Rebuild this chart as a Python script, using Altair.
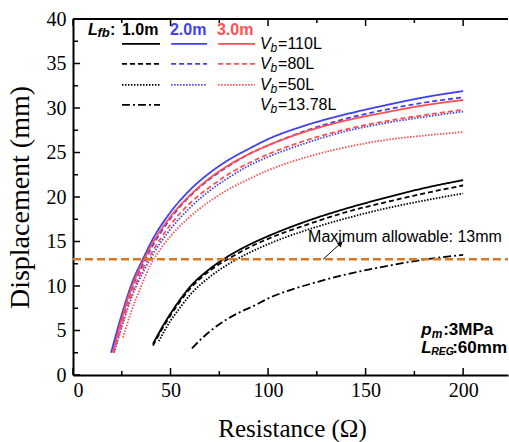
import altair as alt
import pandas as pd

# ---------------- data ----------------
lfb_levels = ["1.0m", "2.0m", "3.0m"]
vb_levels = ["110L", "80L", "50L", "13.78L"]

# Lfb = 1.0 m (black)
r_1_110 = [41, 45, 50, 55, 60, 70, 80, 90, 100, 120, 140, 160, 180, 200]
d_1_110 = [3.5, 5.1, 6.9, 8.5, 9.9, 11.9, 13.4, 14.6, 15.6, 17.3, 18.7, 19.9, 21.0, 21.9]
r_1_80 = [41, 45, 50, 55, 60, 70, 80, 90, 100, 120, 140, 160, 180, 200]
d_1_80 = [3.3, 4.9, 6.7, 8.3, 9.7, 11.7, 13.1, 14.3, 15.3, 16.9, 18.3, 19.4, 20.4, 21.3]
r_1_50 = [44, 50, 55, 60, 70, 80, 90, 100, 120, 140, 160, 180, 200]
d_1_50 = [3.8, 6.1, 7.6, 9.0, 11.0, 12.5, 13.7, 14.7, 16.3, 17.6, 18.7, 19.6, 20.4]
r_1_1378 = [61, 67, 75, 85, 92, 101, 115, 126, 140, 160, 178, 200]
d_1_1378 = [3.0, 4.3, 5.7, 7.0, 7.7, 8.7, 9.8, 10.5, 11.3, 12.2, 12.9, 13.5]

# Lfb = 2.0 m (blue)
r_2_110 = [19.5, 25, 30, 36, 40, 50, 60, 70, 80, 90, 100, 120, 140, 160, 180, 200]
d_2_110 = [2.5, 6.8, 10.2, 13.1, 14.9, 18.3, 20.8, 22.7, 24.2, 25.4, 26.5, 28.1, 29.3, 30.3, 31.2, 31.9]
r_2_80 = [20.5, 25, 30, 36, 40, 50, 60, 70, 80, 90, 100, 120, 140, 160, 180, 200]
d_2_80 = [2.6, 6.2, 9.6, 12.5, 14.2, 17.6, 20.1, 22.0, 23.5, 24.8, 25.8, 27.5, 28.8, 29.8, 30.6, 31.2]
r_2_50 = [21, 25, 30, 36, 40, 50, 60, 70, 80, 90, 100, 120, 140, 160, 180, 200]
d_2_50 = [2.5, 5.4, 8.7, 11.6, 13.2, 16.4, 18.8, 20.7, 22.2, 23.5, 24.5, 26.1, 27.4, 28.3, 29.0, 29.6]

# Lfb = 3.0 m (red)
r_3_110 = [20.5, 25, 30, 36, 40, 50, 60, 70, 80, 90, 100, 120, 140, 160, 180, 200]
d_3_110 = [2.5, 6.3, 9.8, 12.8, 14.5, 17.8, 20.2, 22.1, 23.6, 24.8, 25.8, 27.4, 28.6, 29.5, 30.3, 30.9]
r_3_80 = [21, 25, 30, 36, 40, 50, 60, 70, 80, 90, 100, 120, 140, 160, 180, 200]
d_3_80 = [2.5, 5.6, 9.0, 12.0, 13.6, 16.9, 19.3, 21.1, 22.6, 23.8, 24.8, 26.4, 27.6, 28.5, 29.2, 29.8]
r_3_50 = [25.6, 30, 35, 40, 45, 50, 60, 70, 80, 90, 100, 120, 140, 160, 180, 200]
d_3_50 = [4.2, 7.2, 10.0, 12.5, 14.2, 15.6, 17.8, 19.5, 20.9, 22.0, 23.0, 24.5, 25.6, 26.4, 26.9, 27.3]

series = [
    ("1.0m", "110L", r_1_110, d_1_110), ("1.0m", "80L", r_1_80, d_1_80),
    ("1.0m", "50L", r_1_50, d_1_50), ("1.0m", "13.78L", r_1_1378, d_1_1378),
    ("2.0m", "110L", r_2_110, d_2_110), ("2.0m", "80L", r_2_80, d_2_80),
    ("2.0m", "50L", r_2_50, d_2_50),
    ("3.0m", "110L", r_3_110, d_3_110), ("3.0m", "80L", r_3_80, d_3_80),
    ("3.0m", "50L", r_3_50, d_3_50),
]

limit_value = [13]
x_major = [0, 50, 100, 150, 200]
x_minor = [25, 75, 125, 175]
y_major = [0, 5, 10, 15, 20, 25, 30, 35, 40]
y_minor = [2.5, 7.5, 12.5, 17.5, 22.5, 27.5, 32.5, 37.5]

rows = []
for lfb, vb, rs, ds in series:
    for r, d in zip(rs, ds):
        rows.append({"R": r, "D": d, "Lfb": lfb, "Vb": vb, "s": lfb + vb})
df = pd.DataFrame(rows)

# ---------------- styles ----------------
W, H = 435, 356
BLACK, BLUE, RED, ORANGE = "#000000", "#3f3ff5", "#ff4f4f", "#dc7820"
SERIF, SANS = "Liberation Serif", "Liberation Sans"

xs = alt.Scale(domain=[0, 223], nice=False, zero=False)
ys = alt.Scale(domain=[0, 40], nice=False, zero=False)
cs = alt.Scale(domain=lfb_levels, range=[BLACK, BLUE, RED])
ds = alt.Scale(domain=vb_levels, range=[[1, 0], [5, 3], [1.5, 1.5], [8, 3, 2, 3]])

xaxis = alt.Axis(values=x_major, title="Resistance (Ω)", ticks=False, tickSize=0, grid=False,
                 domainColor=BLACK, domainWidth=2, labelFont=SERIF, labelFontSize=20,
                 labelColor=BLACK, labelPadding=5, titleFont=SERIF, titleFontSize=25,
                 titleFontWeight="normal", titleColor=BLACK, titleX=219, titleY=53,
                 titleBaseline="middle", titleAlign="center")
yaxis = alt.Axis(values=y_major, title="Displacement (mm)", ticks=False, tickSize=0, grid=False,
                 domainColor=BLACK, domainWidth=2, labelFont=SERIF, labelFontSize=20,
                 labelColor=BLACK, labelPadding=7, titleFont=SERIF, titleFontSize=28,
                 titleFontWeight="normal", titleColor=BLACK, titleX=-53, titleY=178,
                 titleBaseline="middle", titleAlign="center")

curves = alt.Chart(df).mark_line(strokeWidth=1.8, clip=True, interpolate="monotone").encode(
    x=alt.X("R:Q", scale=xs, axis=xaxis),
    y=alt.Y("D:Q", scale=ys, axis=yaxis),
    color=alt.Color("Lfb:N", scale=cs, legend=None),
    strokeDash=alt.StrokeDash("Vb:N", scale=ds, legend=None),
    detail="s:N",
    order="R:Q",
)

limit = alt.Chart(pd.DataFrame({"y": limit_value})).mark_rule(
    color=ORANGE, strokeWidth=2.6, strokeDash=[8, 4]
).encode(y=alt.Y("y:Q", scale=ys), x=alt.value(0), x2=alt.value(W))

# legend layout (data units)
leg_x = {"1.0m": (25.1, 44.6), "2.0m": (50.3, 68.7), "3.0m": (74.4, 93.3)}
leg_y = {"110L": 37.2, "80L": 34.95, "50L": 32.6, "13.78L": 30.35}
leg_rows = []
for lfb, vb, _, _ in series:
    leg_rows.append({"Lfb": lfb, "Vb": vb, "x0": leg_x[lfb][0], "x1": leg_x[lfb][1], "y": leg_y[vb]})
leg = alt.Chart(pd.DataFrame(leg_rows)).mark_rule(strokeWidth=1.8).encode(
    x=alt.X("x0:Q", scale=xs), x2="x1:Q", y=alt.Y("y:Q", scale=ys),
    color=alt.Color("Lfb:N", scale=cs, legend=None),
    strokeDash=alt.StrokeDash("Vb:N", scale=ds, legend=None),
)


def text_layer(items, **props):
    d = pd.DataFrame(items, columns=["x", "y", "t"])
    return alt.Chart(d).mark_text(align="left", baseline="middle", **props).encode(
        x=alt.X("x:Q", scale=xs), y=alt.Y("y:Q", scale=ys), text="t:N")


HY = 38.76
VX = 95.9
texts = [
    text_layer([(7.7, HY, "L")], font=SANS, fontSize=16, fontWeight="bold", fontStyle="italic", color=BLACK),
    text_layer([(7.7, HY, "fb")], font=SANS, fontSize=13, fontWeight="bold", fontStyle="italic", color=BLACK, dx=9.5, dy=3),
    text_layer([(7.7, HY, ":")], font=SANS, fontSize=16, fontWeight="bold", color=BLACK, dx=22),
    text_layer([(25.1, HY, "1.0m")], font=SANS, fontSize=16, fontWeight="bold", color=BLACK),
    text_layer([(49.7, HY, "2.0m")], font=SANS, fontSize=16, fontWeight="bold", color=BLUE),
    text_layer([(73.8, HY, "3.0m")], font=SANS, fontSize=16, fontWeight="bold", color=RED),
    text_layer([(VX, leg_y[v], "V") for v in vb_levels], font=SANS, fontSize=16, fontStyle="italic", color=BLACK),
    text_layer([(VX, leg_y[v], "b") for v in vb_levels], font=SANS, fontSize=12, fontStyle="italic", color=BLACK, dx=10.5, dy=4),
    text_layer([(VX, leg_y[v], "=" + v) for v in vb_levels], font=SANS, fontSize=16, color=BLACK, dx=18),
    text_layer([(120.5, 15.5, "Maximum allowable: 13mm")], font=SANS, fontSize=16, color=BLACK),
    text_layer([(178.5, 5.06, "p")], font=SANS, fontSize=17, fontWeight="bold", fontStyle="italic", color=BLACK),
    text_layer([(178.5, 5.06, "m")], font=SANS, fontSize=12, fontWeight="bold", fontStyle="italic", color=BLACK, dx=10.5, dy=4),
    text_layer([(178.5, 5.06, ":3MPa")], font=SANS, fontSize=17, fontWeight="bold", color=BLACK, dx=22),
    text_layer([(178.5, 3.03, "L")], font=SANS, fontSize=17, fontWeight="bold", fontStyle="italic", color=BLACK),
    text_layer([(178.5, 3.03, "REG")], font=SANS, fontSize=10.5, fontWeight="bold", fontStyle="italic", color=BLACK, dx=10, dy=4),
    text_layer([(178.5, 3.03, ":60mm")], font=SANS, fontSize=17, fontWeight="bold", color=BLACK, dx=31),
]

# annotation arrow
arrow = pd.DataFrame({"x": [128.2], "y": [13.0], "x2": [137.2], "y2": [14.8]})
arrow_line = alt.Chart(arrow).mark_rule(color=BLACK, strokeWidth=1).encode(
    x=alt.X("x:Q", scale=xs), y=alt.Y("y:Q", scale=ys), x2="x2:Q", y2="y2:Q")
arrow_head = alt.Chart(arrow).mark_point(shape="triangle-up", filled=True, color=BLACK, size=40,
                                         angle=49, opacity=1).encode(
    x=alt.X("x2:Q", scale=xs), y=alt.Y("y2:Q", scale=ys))

# inward ticks and top frame
def vticks(vals, y0, y1):
    return alt.Chart(pd.DataFrame({"v": vals})).mark_rule(color=BLACK, strokeWidth=1.5).encode(
        x=alt.X("v:Q", scale=xs), y=alt.value(y0), y2=alt.value(y1))


def hticks(vals, length):
    return alt.Chart(pd.DataFrame({"v": vals})).mark_rule(color=BLACK, strokeWidth=1.5).encode(
        y=alt.Y("v:Q", scale=ys), x=alt.value(0), x2=alt.value(length))


ticks = [
    vticks(x_major, H, H - 7), vticks(x_minor, H, H - 4),
    vticks(x_major, 0, 7), vticks(x_minor, 0, 4),
    hticks(y_major, 7), hticks(y_minor, 5),
]
top_frame = alt.Chart(pd.DataFrame({"v": [0]})).mark_rule(color=BLACK, strokeWidth=2).encode(
    x=alt.value(0), x2=alt.value(W), y=alt.value(0))

chart = alt.layer(
    curves, limit, leg, arrow_line, arrow_head, *texts, *ticks, top_frame
).properties(
    width=W, height=H,
    autosize=alt.AutoSizeParams(type="none"),
    padding={"left": 73, "top": 19, "right": 1, "bottom": 67},
).configure_view(stroke=None)

chart.save("out.html", embed_options={"renderer": "svg", "actions": False})
